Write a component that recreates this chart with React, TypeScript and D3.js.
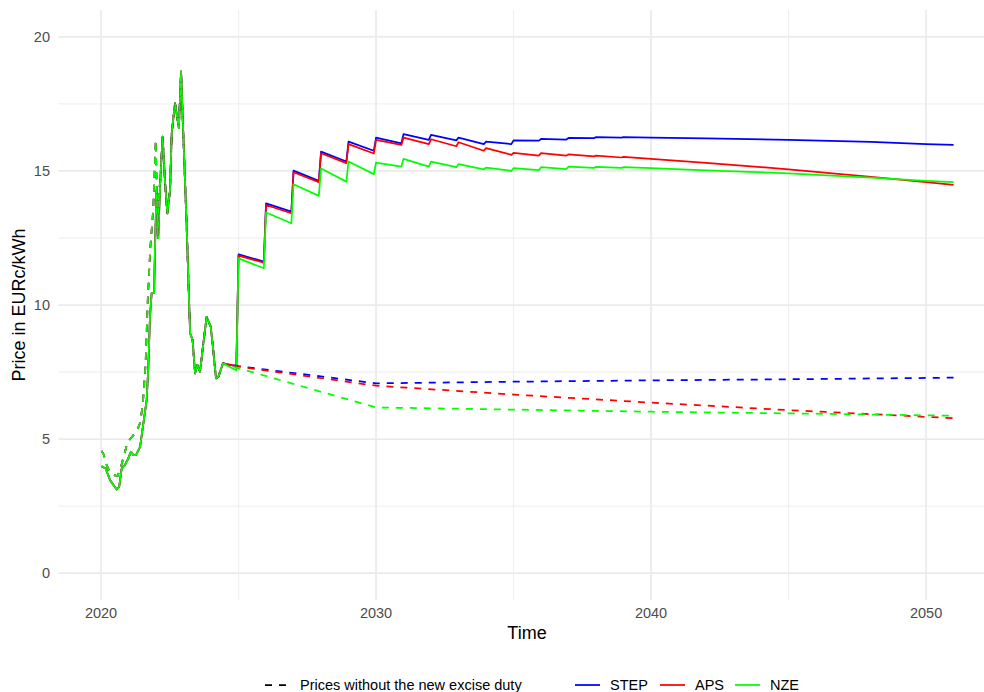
import React from "react";
import * as d3 from "d3";

// Scenario names and colours
const scenarioNames = ["STEP", "APS", "NZE"];
const scenarioColors = ["#0000FF", "#FF0000", "#00FF00"];

// Historic household electricity price (EURc/kWh), incl. duty, [year, price]
const histWithDuty: [number, number][] = [
  [2020.02, 3.99], [2020.17, 3.9], [2020.33, 3.47], [2020.57, 3.12], [2020.66, 3.22],
  [2020.75, 3.9], [2020.87, 4.03], [2020.99, 4.28], [2021.09, 4.53], [2021.18, 4.4],
  [2021.27, 4.4], [2021.42, 4.71], [2021.54, 5.59], [2021.66, 6.46], [2021.72, 7.7],
  [2021.78, 9.56], [2021.84, 10.44], [2021.93, 10.44], [2021.96, 12.05], [2022.02, 14.29],
  [2022.08, 12.49], [2022.15, 14.54], [2022.24, 16.28], [2022.33, 14.54], [2022.41, 13.42],
  [2022.51, 14.29], [2022.57, 16.4], [2022.69, 17.53], [2022.83, 16.6], [2022.91, 18.71],
  [2022.99, 16.4], [2023.11, 13.05], [2023.24, 8.94], [2023.33, 8.69], [2023.42, 7.45],
  [2023.5, 7.76], [2023.6, 7.51], [2023.72, 8.57], [2023.84, 9.56], [2023.99, 9.19],
  [2024.08, 8.32], [2024.18, 7.26], [2024.27, 7.33], [2024.43, 7.82],
];

// Historic price without the new excise duty (differs only up to early 2022)
const histNoDutyEarly: [number, number][] = [
  [2020.02, 4.56], [2020.1, 4.42], [2020.2, 4.05], [2020.3, 3.8], [2020.45, 3.66],
  [2020.6, 3.62], [2020.72, 3.95], [2020.85, 4.45], [2020.97, 4.9], [2021.12, 5.08],
  [2021.3, 5.3], [2021.42, 5.6], [2021.52, 6.3], [2021.62, 7.8], [2021.7, 10.2],
  [2021.79, 12.1], [2021.9, 13.6], [2021.99, 16.15], [2022.06, 12.6], [2022.12, 14.4],
];

// Scenario projections incl. new excise duty
const stepWithDuty: [number, number][] = [
  [2024.92, 7.72], [2025, 11.89], [2025.92, 11.62], [2026, 13.79], [2026.92, 13.48],
  [2027, 15.01], [2027.92, 14.63], [2028, 15.72], [2028.92, 15.35], [2029, 16.09],
  [2029.92, 15.75], [2030, 16.24], [2030.92, 16.03], [2031, 16.37], [2031.92, 16.16],
  [2032, 16.34], [2032.92, 16.14], [2033, 16.24], [2033.92, 16.0], [2034, 16.09],
  [2034.92, 16.0], [2035, 16.14], [2035.92, 16.13], [2036, 16.19], [2036.92, 16.17],
  [2037, 16.23], [2037.92, 16.22], [2038, 16.26], [2038.92, 16.24], [2039, 16.26],
  [2040, 16.24], [2042, 16.21], [2045, 16.16], [2048, 16.08], [2050, 16.0], [2051, 15.97],
];
const apsWithDuty: [number, number][] = [
  [2024.92, 7.72], [2025, 11.84], [2025.92, 11.58], [2026, 13.73], [2026.92, 13.42],
  [2027, 14.95], [2027.92, 14.58], [2028, 15.66], [2028.92, 15.29], [2029, 16.0],
  [2029.92, 15.65], [2030, 16.16], [2030.92, 15.97], [2031, 16.24], [2031.92, 16.0],
  [2032, 16.18], [2032.92, 15.92], [2033, 16.07], [2033.92, 15.75], [2034, 15.85],
  [2034.92, 15.6], [2035, 15.67], [2035.92, 15.57], [2036, 15.66], [2036.92, 15.57],
  [2037, 15.62], [2037.92, 15.54], [2038, 15.57], [2038.92, 15.5], [2039, 15.52],
  [2040, 15.45], [2042, 15.3], [2045, 15.06], [2048, 14.78], [2050, 14.58], [2051, 14.48],
];
const nzeWithDuty: [number, number][] = [
  [2024.92, 7.57], [2025, 11.74], [2025.92, 11.37], [2026, 13.45], [2026.92, 13.05],
  [2027, 14.5], [2027.92, 14.07], [2028, 15.09], [2028.92, 14.6], [2029, 15.35],
  [2029.92, 14.88], [2030, 15.31], [2030.92, 15.16], [2031, 15.45], [2031.92, 15.16],
  [2032, 15.35], [2032.92, 15.14], [2033, 15.25], [2033.92, 15.06], [2034, 15.12],
  [2034.92, 15.0], [2035, 15.1], [2035.92, 15.03], [2036, 15.14], [2036.92, 15.07],
  [2037, 15.16], [2037.92, 15.11], [2038, 15.15], [2038.92, 15.11], [2039, 15.14],
  [2040, 15.1], [2042, 15.02], [2045, 14.91], [2048, 14.75], [2050, 14.63], [2051, 14.58],
];

// Scenario projections without the new excise duty
const stepNoDuty: [number, number][] = [
  [2025, 7.72], [2030, 7.08], [2035, 7.14], [2040, 7.19], [2045, 7.23], [2051, 7.29],
];
const apsNoDuty: [number, number][] = [
  [2025, 7.7], [2030, 6.99], [2035, 6.66], [2040, 6.36], [2045, 6.08], [2051, 5.78],
];
const nzeNoDuty: [number, number][] = [
  [2025, 7.64], [2030, 6.18], [2035, 6.1], [2040, 6.02], [2045, 5.96], [2051, 5.87],
];

// Axis ticks
const xMajorTicks = [2020, 2030, 2040, 2050];
const xMinorTicks = [2025, 2035, 2045];
const yMajorTicks = [0, 5, 10, 15, 20];
const yMinorTicks = [2.5, 7.5, 12.5, 17.5];

const W = 984;
const H = 692;
const FONT = "'Liberation Sans', Arial, Helvetica, sans-serif";

export default function App() {
  const x = d3.scaleLinear().domain([2018.45, 2052.55]).range([58.4, 996.2]);
  const y = d3.scaleLinear().domain([-1, 21]).range([600, 10]);
  const line = d3
    .line<[number, number]>()
    .x((d) => x(d[0]))
    .y((d) => y(d[1]));

  const histNoDuty = [
    ...histNoDutyEarly,
    ...histWithDuty.filter((d) => d[0] >= 2022.15),
  ];
  const withDuty = [stepWithDuty, apsWithDuty, nzeWithDuty].map((s) => [
    ...histWithDuty,
    ...s,
  ]);
  const noDuty = [stepNoDuty, apsNoDuty, nzeNoDuty].map((s) => [
    ...histNoDuty,
    ...s,
  ]);

  const panelLeft = 58.4;
  const panelRight = W;
  const gridColor = "#EBEBEB";
  const lineW = 1.75;
  const dash = "7 7";

  const legendY = 685;

  return (
    <svg
      width={W}
      height={H}
      style={{ position: "absolute", left: 0, top: 0, background: "#fff" }}
      fontFamily={FONT}
    >
      {/* grid */}
      <g>
        {yMinorTicks.map((v) => (
          <line key={"ym" + v} x1={panelLeft} x2={panelRight} y1={y(v)} y2={y(v)} stroke={gridColor} strokeWidth={0.9} />
        ))}
        {xMinorTicks.map((v) => (
          <line key={"xm" + v} x1={x(v)} x2={x(v)} y1={10} y2={600} stroke={gridColor} strokeWidth={0.9} />
        ))}
        {yMajorTicks.map((v) => (
          <line key={"yM" + v} x1={panelLeft} x2={panelRight} y1={y(v)} y2={y(v)} stroke={gridColor} strokeWidth={1.75} />
        ))}
        {xMajorTicks.map((v) => (
          <line key={"xM" + v} x1={x(v)} x2={x(v)} y1={10} y2={600} stroke={gridColor} strokeWidth={1.75} />
        ))}
      </g>

      {/* price lines incl. duty */}
      <g fill="none" strokeLinejoin="round">
        {withDuty.map((s, i) => (
          <path key={"w" + i} d={line(s) || ""} stroke={scenarioColors[i]} strokeWidth={lineW} />
        ))}
      </g>
      {/* price lines without new duty */}
      <g fill="none" strokeLinejoin="round">
        {noDuty.map((s, i) => (
          <path key={"n" + i} d={line(s) || ""} stroke={scenarioColors[i]} strokeWidth={lineW} strokeDasharray={dash} />
        ))}
      </g>

      {/* axis tick labels */}
      <g fontSize={14.5} fill="#4D4D4D">
        {yMajorTicks.map((v) => (
          <text key={"yl" + v} x={50} y={y(v)} dy="0.35em" textAnchor="end">
            {v}
          </text>
        ))}
        {xMajorTicks.map((v) => (
          <text key={"xl" + v} x={x(v)} y={618} textAnchor="middle">
            {v}
          </text>
        ))}
      </g>

      {/* axis titles */}
      <text x={527} y={639} fontSize={18} textAnchor="middle" fill="#000">
        Time
      </text>
      <text
        transform={`translate(24.5,${y(10)}) rotate(-90)`}
        fontSize={18}
        textAnchor="middle"
        fill="#000"
      >
        Price in EURc/kWh
      </text>

      {/* legend */}
      <g fontSize={14.5} fill="#000">
        <line x1={265} x2={290} y1={legendY} y2={legendY} stroke="#000" strokeWidth={lineW} strokeDasharray={dash} />
        <text x={300} y={legendY} dy="0.35em">
          Prices without the new excise duty
        </text>
        {scenarioNames.map((n, i) => {
          const lx = [575, 660, 735][i];
          return (
            <g key={n}>
              <line x1={lx} x2={lx + 25} y1={legendY} y2={legendY} stroke={scenarioColors[i]} strokeWidth={lineW} />
              <text x={lx + 35} y={legendY} dy="0.35em">
                {n}
              </text>
            </g>
          );
        })}
      </g>
    </svg>
  );
}
